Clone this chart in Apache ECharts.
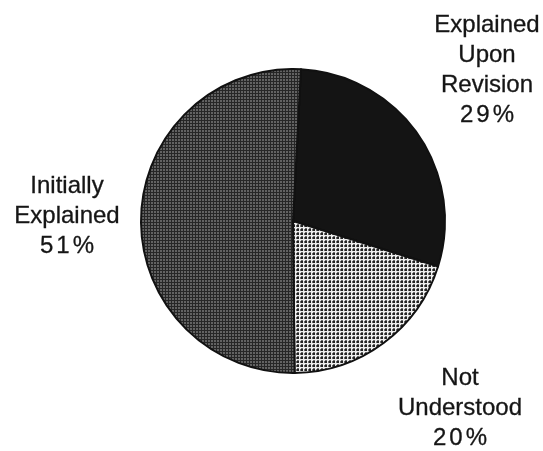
<!DOCTYPE html>
<html>
<head>
<meta charset="utf-8">
<style>
  html, body { margin: 0; padding: 0; background: #ffffff; }
  #chart { width: 543px; height: 451px; }
</style>
<script src="https://cdn.jsdelivr.net/npm/echarts@6/dist/echarts.min.js"></script>
</head>
<body>
<div id="chart"></div>
<script>
// Slice names and their shares (percent), clockwise from the top
const categories = ['Explained\nUpon\nRevision', 'Not\nUnderstood', 'Initially\nExplained'];
const shares = [29, 20, 51];

// Small repeating halftone tiles used as slice fills
function makeTile(size, draw) {
  const c = document.createElement('canvas');
  c.width = size; c.height = size;
  const g = c.getContext('2d');
  draw(g);
  return c;
}
const solidDark = '#141414';
const lightDots = makeTile(4, g => {
  g.fillStyle = '#eeeeee'; g.fillRect(0, 0, 4, 4);
  g.fillStyle = '#222222'; g.fillRect(1, 1, 2, 2);
  g.fillStyle = '#6a6a6a'; g.fillRect(0, 1, 1, 2); g.fillRect(1, 0, 2, 1);
});
const mediumDots = makeTile(3, g => {
  g.fillStyle = '#262626'; g.fillRect(0, 0, 3, 3);
  g.fillStyle = '#626262'; g.fillRect(1, 1, 2, 2);
});
const fills = [solidDark, { image: lightDots, repeat: 'repeat' }, { image: mediumDots, repeat: 'repeat' }];

// Where each slice's caption sits (centre of the text block)
const captionSpots = [[487, 70], [460, 408], [67, 216]];

// Caption text: name lines, then the percentage with its characters spread apart
function caption(p) {
  const pct = String(p.value) + '%';
  const spread = pct.split('').map(ch => '{d|' + ch + '}').join('');
  const names = p.name.split('\n').map(line => '{n|' + line + '}').join('\n');
  return names + '\n' + spread;
}

const textBase = {
  fontFamily: 'Liberation Sans, Arial, sans-serif',
  fontSize: 24,
  lineHeight: 30,
  color: '#151515',
  textBorderColor: '#151515',
  textBorderWidth: 0.3
};

const chart = echarts.init(document.getElementById('chart'), null, { renderer: 'canvas' });
chart.setOption({
  backgroundColor: '#ffffff',
  animation: false,
  series: [{
    type: 'pie',
    center: [293, 221],
    radius: 152,
    startAngle: 87,
    clockwise: true,
    avoidLabelOverlap: false,
    silent: true,
    itemStyle: { borderColor: '#111111', borderWidth: 2 },
    label: Object.assign({
      show: true,
      position: 'outside',
      formatter: caption,
      align: 'center',
      rich: {
        n: Object.assign({}, textBase),
        d: Object.assign({ padding: [0, 1.5] }, textBase)
      }
    }, textBase),
    labelLine: { show: false },
    labelLayout: p => ({
      x: captionSpots[p.dataIndex][0],
      y: captionSpots[p.dataIndex][1],
      align: 'center',
      verticalAlign: 'middle'
    }),
    data: categories.map((name, i) => ({
      name: name,
      value: shares[i],
      itemStyle: { color: fills[i] }
    }))
  }]
});
</script>
</body>
</html>
